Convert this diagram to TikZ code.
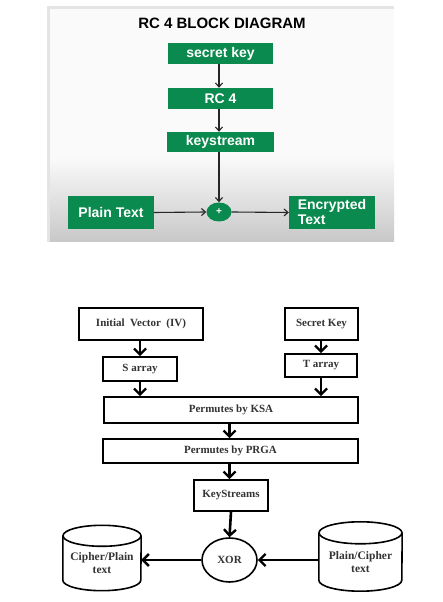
\documentclass[tikz,border=0pt]{standalone}
\usepackage{fontspec}
\setmainfont{Liberation Serif}
\newfontfamily\arialf{Liberation Sans}
\usetikzlibrary{arrows.meta,shapes.geometric}
\definecolor{rcgreen}{RGB}{10,138,78}
\definecolor{panelgrey}{RGB}{200,200,200}
\definecolor{edgegrey}{RGB}{228,228,228}
\begin{document}
\begin{tikzpicture}[x=1pt,y=1pt,
  gbox/.style={fill=rcgreen, text=white, font=\arialf\bfseries\fontsize{14}{15}\selectfont, inner sep=0pt, minimum width=105pt, minimum height=21pt},
  tarrow/.style={draw=black!85, line width=1.1pt, -{Straight Barb[length=4pt,width=7pt]}},
  wbox/.style={draw, line width=1.6pt, text=black!80, font=\bfseries\fontsize{11}{12}\selectfont, inner sep=0pt},
  barrow/.style={line width=2.6pt, -{Straight Barb[length=6pt,width=12pt,line width=2.4pt]}},
  cylline/.style={line width=1.6pt},
  plain/.style={inner sep=0pt, text=black!80, font=\bfseries\fontsize{11.5}{13}\selectfont, align=center}]
\useasboundingbox (0,0) rectangle (443,602);
\fill[white] (0,0) rectangle (443,602);
% panel
\fill[white!98!black] (47,360) rectangle (394,596);
\shade[top color=white!98!black, bottom color=panelgrey] (47,360) rectangle (394,445);
\fill[edgegrey] (47,360) rectangle (50,596);
\fill[edgegrey] (47,593) rectangle (394,596);
% top diagram
\node[font=\arialf\bfseries\fontsize{15}{16}\selectfont] (title) at (222,579) {RC 4 BLOCK DIAGRAM};
\node[gbox] (sk) at (220.5,548.5) {secret key};
\node[gbox] (rc) at (220.5,503.5) {RC 4};
\node[gbox, minimum width=107pt, minimum height=20pt] (ks) at (220.5,460) {keystream};
\node[gbox, minimum width=86pt, minimum height=33pt] (pt) at (111,389.5) {Plain Text};
\node[gbox, minimum width=86pt, minimum height=33pt, align=left, font=\arialf\bfseries\fontsize{14}{15}\selectfont] (enc) at (332,389.5) {Encrypted\\Text};
\node[ellipse, fill=rcgreen, text=white, minimum width=25pt, minimum height=19pt, inner sep=0pt, font=\arialf\bfseries\fontsize{10}{10}\selectfont] (plus) at (219,390) {+};
\draw[tarrow] (plus.north |- sk.south) -- (plus.north |- rc.north);
\draw[tarrow] (plus.north |- rc.south) -- (plus.north |- ks.north);
\draw[tarrow] (plus.north |- ks.south) -- (plus.north);
\draw[tarrow] (pt.east) -- (plus.west);
\draw[tarrow] (plus.east) -- (enc.west);
% bottom diagram
\node[wbox, minimum width=124pt, minimum height=32pt] (iv) at (141,278) {Initial\enspace Vector\enspace (IV)};
\node[wbox, minimum width=73pt, minimum height=32pt] (sek) at (321.5,278) {Secret Key};
\node[wbox, minimum width=74pt, minimum height=24pt] (sa) at (140,233) {S array};
\node[wbox, minimum width=72pt, minimum height=23pt] (ta) at (321,236.5) {T array};
\node[wbox, minimum width=254pt, minimum height=26pt] (ksa) at (231,192) {Permutes by KSA};
\node[wbox, minimum width=255pt, minimum height=24pt] (prga) at (230.5,151) {Permutes by PRGA};
\node[wbox, minimum width=74pt, minimum height=31pt] (kst) at (231,106.5) {KeyStreams};
\node[wbox, ellipse, minimum width=55pt, minimum height=44pt] (xor) at (229.5,42) {XOR};
% cylinders
\node[inner sep=0pt, minimum width=78pt, minimum height=44pt] (cyl1) at (102,44) {};
\node[plain] (cyl1t) at (102,38.5) {Cipher/Plain\\text};
\draw[cylline] (cyl1.north west) -- (cyl1.south west) arc[start angle=180,end angle=360,x radius=39,y radius=10.5] -- (cyl1.north east);
\draw[cylline] (cyl1.north) ellipse[x radius=39,y radius=10.5];
\node[inner sep=0pt, minimum width=83pt, minimum height=47pt] (cyl2) at (360.5,45.5) {};
\node[plain] (cyl2t) at (360.5,39.5) {Plain/Cipher\\text};
\draw[cylline] (cyl2.north west) -- (cyl2.south west) arc[start angle=180,end angle=360,x radius=41.5,y radius=11] -- (cyl2.north east);
\draw[cylline] (cyl2.north) ellipse[x radius=41.5,y radius=11];
% arrows
\draw[barrow] (sa.north |- iv.south) -- (sa.north);
\draw[barrow] (ta.north |- sek.south) -- (ta.north);
\draw[barrow] (sa.south) -- (sa.south |- ksa.north);
\draw[barrow] (ta.south) -- (ta.south |- ksa.north);
\coordinate (kp) at (prga.north -| xor.north);
\draw[barrow] (ksa.south -| kp) -- (kp);
\draw[barrow] (prga.south -| kp) -- (kst.north -| kp);
\draw[barrow] (kst.south) -- (xor.north);
\draw[barrow] (cyl2.west |- xor.east) -- (xor.east);
\draw[barrow] (xor.west) -- (xor.west -| cyl1.east);
\end{tikzpicture}
\end{document}
